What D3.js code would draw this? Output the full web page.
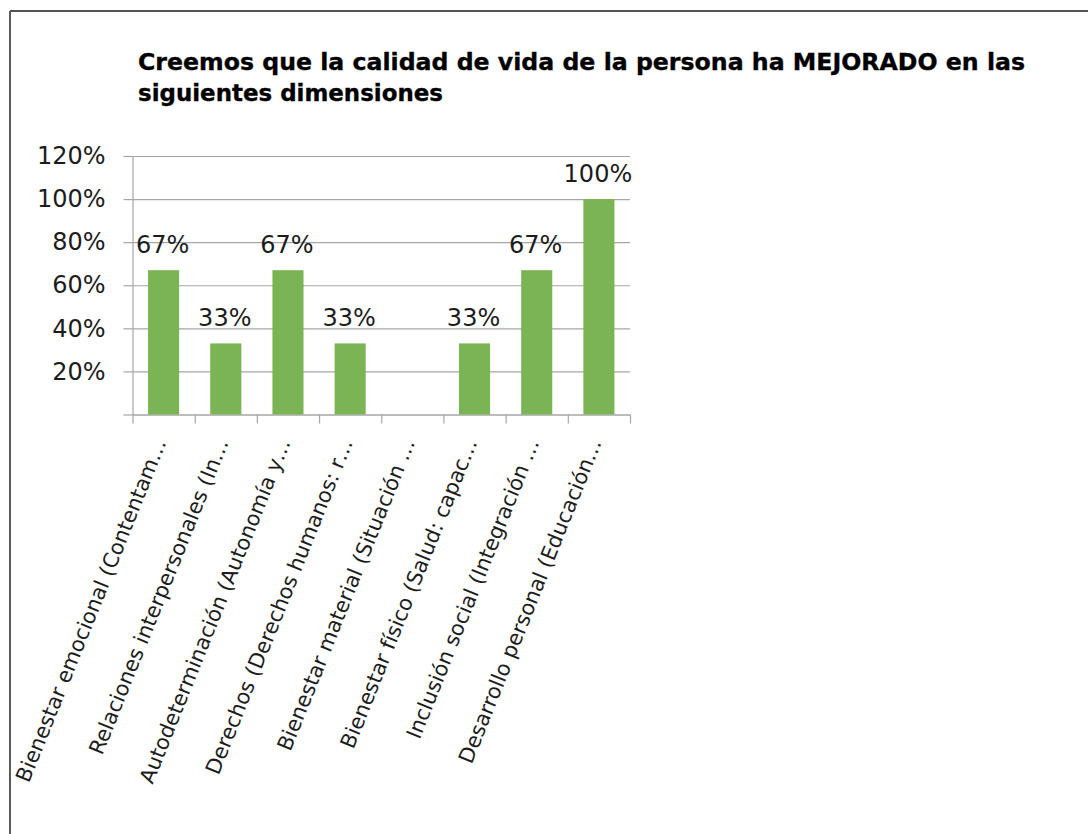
<!DOCTYPE html>
<html>
<head>
<meta charset="utf-8">
<script src="https://cdn.jsdelivr.net/npm/d3@7"></script>
<style>
  body { margin: 0; background: #fff; }
  svg { display: block; }
  text { font-family: "DejaVu Sans", Verdana, sans-serif; }
</style>
</head>
<body>
<svg id="chart" width="1088" height="834"></svg>
<script>
// Quality-of-life dimensions and share of responses that improved
const categories = [
  "Bienestar emocional (Contentam…",
  "Relaciones interpersonales (In…",
  "Autodeterminación (Autonomía y…",
  "Derechos (Derechos humanos: r…",
  "Bienestar material (Situación …",
  "Bienestar físico (Salud: capac…",
  "Inclusión social (Integración …",
  "Desarrollo personal (Educación…"
];
const values = [67, 33, 67, 33, null, 33, 67, 100];
const yTicks = [0, 20, 40, 60, 80, 100, 120];
const titleLines = [
  "Creemos que la calidad de vida de la persona ha MEJORADO en las",
  "siguientes dimensiones"
];

const svg = d3.select("#chart");
const plot = { left: 132.5, right: 630, top: 156, bottom: 414.5 };
const gridColor = "#a6a6a6";
const barColor = "#7bb454";
const textColor = "#1c1c1c";

// outer frame (top and left edges)
svg.append("line").attr("x1", 10).attr("x2", 1088).attr("y1", 11).attr("y2", 11)
  .attr("stroke", "#1a1a1a").attr("stroke-width", 1.5);
svg.append("line").attr("x1", 10).attr("x2", 10).attr("y1", 11).attr("y2", 834)
  .attr("stroke", "#5a5a5a").attr("stroke-width", 2);

// title
const titleWidths = [887, 305];
const titleBase = [70, 101];
titleLines.forEach((t, i) => {
  svg.append("text")
    .attr("x", 138).attr("y", titleBase[i])
    .attr("font-size", 23.5).attr("font-weight", "bold").attr("fill", "#000")
    .attr("stroke", "#000").attr("stroke-width", 0.35)
    .attr("textLength", titleWidths[i]).attr("lengthAdjust", "spacingAndGlyphs")
    .text(t);
});

const x = d3.scaleBand().domain(categories)
  .range([plot.left, plot.right]).paddingInner(0.5).paddingOuter(0.25);
const y = d3.scaleLinear().domain([0, 120]).range([plot.bottom, plot.top]);
const slots = d3.scaleLinear().domain([0, categories.length]).range([plot.left, plot.right]);

// horizontal gridlines
const grid = svg.append("g").attr("transform", `translate(${plot.left},0)`)
  .call(d3.axisLeft(y).tickValues(yTicks).tickSize(-(plot.right - plot.left)).tickFormat(""));
grid.select(".domain").remove();
grid.selectAll("line").attr("stroke", gridColor).attr("stroke-width", 1.2);

// y axis with percent labels
const yAxis = svg.append("g").attr("transform", `translate(${plot.left},0)`)
  .call(d3.axisLeft(y).tickValues(yTicks).tickSizeInner(9).tickSizeOuter(0).tickPadding(18)
    .tickFormat(d => d === 0 ? "" : d + "%"));
yAxis.select(".domain").attr("stroke", gridColor).attr("stroke-width", 1.2);
yAxis.selectAll("line").attr("stroke", gridColor).attr("stroke-width", 1.2);
yAxis.selectAll("text").attr("font-size", 24).attr("fill", textColor)
  .attr("font-family", "'DejaVu Sans', Verdana, sans-serif");

// x axis line with category boundary ticks
const xTicks = svg.append("g").attr("transform", `translate(0,${plot.bottom})`)
  .call(d3.axisBottom(slots).tickValues(d3.range(categories.length + 1)).tickSizeInner(9).tickSizeOuter(0).tickFormat(""));
xTicks.select(".domain").attr("stroke", gridColor).attr("stroke-width", 1.2);
xTicks.selectAll("line").attr("stroke", gridColor).attr("stroke-width", 1.2);

// bars
svg.append("g").selectAll("rect")
  .data(categories.map((c, i) => ({ c, v: values[i] })).filter(d => d.v != null))
  .join("rect")
  .attr("x", d => x(d.c))
  .attr("y", d => y(d.v))
  .attr("width", x.bandwidth())
  .attr("height", d => y(0) - y(d.v))
  .attr("fill", barColor);

// value labels
svg.append("g").selectAll("text")
  .data(categories.map((c, i) => ({ c, v: values[i] })).filter(d => d.v != null))
  .join("text")
  .attr("x", d => x(d.c) + x.bandwidth() / 2 - 1)
  .attr("y", d => y(d.v) - 17)
  .attr("text-anchor", "middle")
  .attr("font-size", 24).attr("fill", textColor)
  .text(d => d.v + "%");

// rotated category labels
const xLabels = svg.append("g").attr("transform", `translate(0,${plot.bottom})`)
  .call(d3.axisBottom(x).tickSize(0).tickPadding(0));
xLabels.select(".domain").remove();
xLabels.selectAll("text")
  .attr("x", 0).attr("y", 0).attr("dy", 0)
  .attr("text-anchor", "end")
  .attr("transform", "translate(3,28) rotate(-68)")
  .attr("font-size", 21).attr("fill", textColor)
  .attr("font-family", "'DejaVu Sans', Verdana, sans-serif");
</script>
</body>
</html>
